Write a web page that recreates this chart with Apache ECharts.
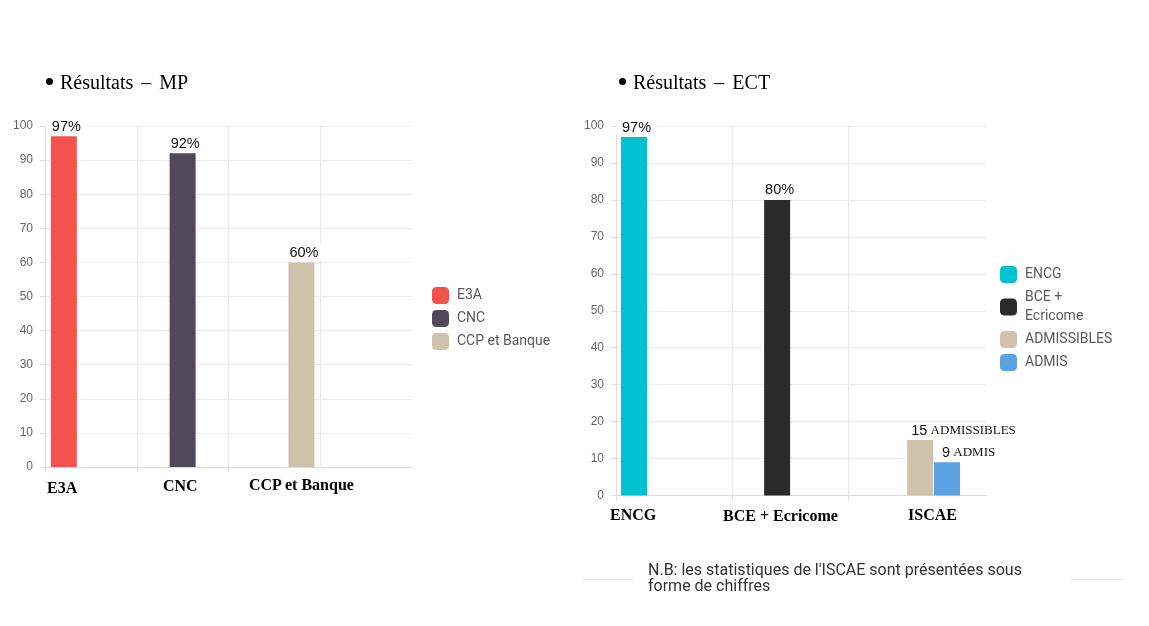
<!DOCTYPE html>
<html>
<head>
<meta charset="utf-8">
<script src="https://cdn.jsdelivr.net/npm/echarts@6/dist/echarts.min.js"></script>
<style>
  body { margin: 0; background: #fff; }
  #page { position: relative; width: 1149px; height: 626px; overflow: hidden; }
  #chart { position: absolute; left: 0; top: 0; width: 1149px; height: 626px; }
  .ttl { position: absolute; font-family: "Liberation Serif", "Times New Roman", serif; font-size: 20px; line-height: 20px; color: #000; white-space: nowrap; word-spacing: 3px; }
  .dot { position: absolute; width: 7px; height: 7px; border-radius: 50%; background: #000; }
  .cat { position: absolute; font-family: "Liberation Serif", "Times New Roman", serif; font-weight: bold; font-size: 16px; line-height: 16px; color: #000; white-space: nowrap; }
  .note { position: absolute; left: 648px; top: 562px; font-family: Roboto, sans-serif; font-size: 16px; line-height: 16px; color: #333; white-space: nowrap; }
  .hr { position: absolute; top: 579px; height: 1px; background: #e6e6e6; }
</style>
</head>
<body>
<div id="page">
  <div id="chart"></div>

  <div class="dot" style="left:46px;top:78px"></div>
  <div class="ttl" style="left:60px;top:72px">Résultats – MP</div>
  <div class="dot" style="left:619px;top:78px"></div>
  <div class="ttl" style="left:633px;top:72px">Résultats – ECT</div>

  <div class="cat" style="left:47px;top:480px">E3A</div>
  <div class="cat" style="left:163px;top:478px">CNC</div>
  <div class="cat" style="left:249px;top:477px">CCP et Banque</div>

  <div class="cat" style="left:610px;top:507px">ENCG</div>
  <div class="cat" style="left:723px;top:508px">BCE + Ecricome</div>
  <div class="cat" style="left:908px;top:507px">ISCAE</div>

  <div class="hr" style="left:581px;width:54px"></div>
  <div class="hr" style="left:1070px;width:54px"></div>
  <div class="note">N.B: les statistiques de l'ISCAE sont présentées sous<br>forme de chiffres</div>
</div>

<script type="text/javascript">
// chart MP : une categorie par serie, la 4e reste vide
var mpCategories = ['E3A', 'CNC', 'CCP et Banque', ''];
var mpSeries = ['E3A', 'CNC', 'CCP et Banque'];
var mpValues = [97, 92, 60];
var mpLabels = ['97%', '92%', '60%'];
var mpColors = ['#f4524d', '#50485b', '#cec2ab'];

// chart ECT
var ectCategories = ['ENCG', 'BCE + Ecricome', 'ISCAE'];
var ectSeries = ['ENCG', 'BCE + Ecricome', 'ADMISSIBLES', 'ADMIS'];
var ectValues = [97, 80, 15, 9];
var ectSlot = [0, 1, 2, 2];
var ectLabels = ['97%', '80%', '{n|15}{t| ADMISSIBLES}', '{n|9}{t| ADMIS}'];
var ectColors = ['#00c1cf', '#2a2a2a', '#cec2ab', '#5aa1e3'];

var tickLabels = [0, 10, 20, 30, 40, 50, 60, 70, 80, 90, 100];

var gridColor = '#ebebeb';
var axisColor = '#dcdcdc';
var none = 'rgba(0,0,0,0)';

var myChart = echarts.init(document.getElementById('chart'));

function valueAxis(grid, visible) {
    return {
        type: 'value', gridIndex: grid, show: visible,
        min: tickLabels[0], max: tickLabels[tickLabels.length - 1], interval: tickLabels[1] - tickLabels[0],
        axisLine: { show: true, lineStyle: { color: axisColor } },
        axisTick: { show: true, length: 5, lineStyle: { color: axisColor } },
        axisLabel: { color: '#666', fontSize: 12, margin: 12, fontFamily: 'Liberation Sans' },
        splitLine: { show: true, lineStyle: { color: gridColor } }
    };
}

// lignes verticales entre categories, sans la derniere (bord droit)
function catAxis(grid, cats, line) {
    var cols = cats.map(function () { return gridColor; });
    cols.push(none);
    return {
        type: 'category', gridIndex: grid, data: cats, boundaryGap: true, position: 'bottom',
        axisLine: { show: line, lineStyle: { color: axisColor } },
        axisTick: { show: false },
        axisLabel: { show: false },
        splitLine: { show: true, interval: 0, lineStyle: { color: cols } }
    };
}

// petits traits sous l'axe, seulement sur les 3 premieres separations
function tickAxis(grid, n) {
    return {
        type: 'value', gridIndex: grid, min: 0, max: n, interval: 1, position: 'bottom', offset: 0,
        axisLine: { show: false },
        axisTick: { show: true, length: 5, customValues: [0, 1, 2], lineStyle: { color: axisColor } },
        axisLabel: { show: false },
        splitLine: { show: false }
    };
}

var baseLabel = {
    show: true, align: 'left', verticalAlign: 'bottom',
    color: '#111', fontSize: 14.5, fontFamily: 'Liberation Sans',
    backgroundColor: '#fff', padding: [1, 6, 0, 6],
    rich: {
        n: { fontSize: 14.5, fontFamily: 'Liberation Sans', color: '#111' },
        t: { fontSize: 13, fontFamily: 'Liberation Serif', color: '#111' }
    }
};

var series = [];

mpSeries.forEach(function (name, i) {
    series.push({
        name: name, type: 'bar', xAxisIndex: 0, yAxisIndex: 0,
        barWidth: 26, barGap: '4%',
        itemStyle: { color: mpColors[i] },
        data: mpCategories.map(function (c, j) { return j === i ? mpValues[i] : null; }),
        label: Object.assign({}, baseLabel, { position: [-5, -2], formatter: mpLabels[i] })
    });
});

var ectOffset = [-5, -5, -2, 2];
ectSeries.forEach(function (name, i) {
    series.push({
        name: name, type: 'bar', xAxisIndex: 2, yAxisIndex: 2,
        barWidth: 26, barGap: '3%',
        itemStyle: { color: ectColors[i] },
        data: ectCategories.map(function (c, j) { return j === ectSlot[i] ? ectValues[i] : null; }),
        label: Object.assign({}, baseLabel, { position: [ectOffset[i], -2], formatter: ectLabels[i] })
    });
});

var legendText = { fontFamily: 'Roboto', fontSize: 14, color: '#5a5a5a', lineHeight: 19, padding: [0, 0, 0, 3] };

myChart.setOption({
    animation: false,
    textStyle: { fontFamily: 'Roboto' },
    grid: [
        { left: 45, top: 126, width: 367, height: 341 },
        { left: 616, top: 126, width: 370, height: 369.5 },
        { left: 616, top: 126, width: 349, height: 369.5 }
    ],
    xAxis: [
        catAxis(0, mpCategories, true),
        { type: 'value', gridIndex: 1, min: 0, max: 1, axisLine: { show: true, lineStyle: { color: axisColor } },
          axisTick: { show: false }, axisLabel: { show: false }, splitLine: { show: false } },
        catAxis(2, ectCategories, false),
        tickAxis(0, mpCategories.length),
        tickAxis(2, ectCategories.length)
    ],
    yAxis: [valueAxis(0, true), valueAxis(1, true), valueAxis(2, false)],
    legend: [
        { data: mpSeries, orient: 'vertical', left: 432, top: 286, padding: 0,
          itemWidth: 17, itemHeight: 17, itemGap: 4, icon: 'roundRect', textStyle: legendText, selectedMode: false },
        { data: ectSeries, orient: 'vertical', left: 1000, top: 265, padding: 0,
          itemWidth: 17, itemHeight: 17, itemGap: 4, icon: 'roundRect', textStyle: legendText, selectedMode: false,
          formatter: function (name) { return name === 'BCE + Ecricome' ? 'BCE +\nEcricome' : name; } }
    ],
    series: series
});
</script>
</body>
</html>
